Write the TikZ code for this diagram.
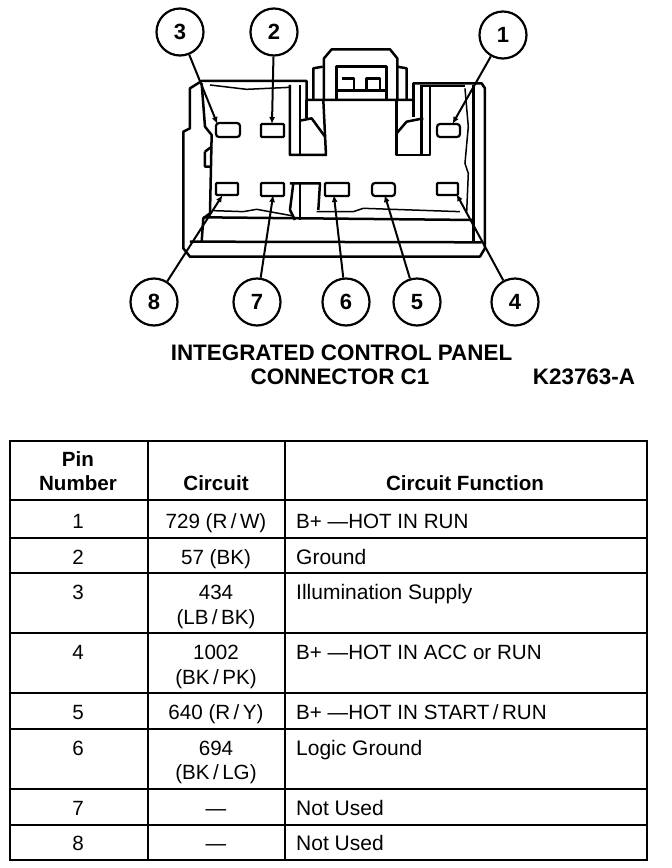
\documentclass[tikz,border=0pt]{standalone}
\usepackage{fontspec}
\setmainfont{Liberation Sans}
\usetikzlibrary{arrows.meta}
\tikzset{
 callout/.style={circle,draw,line width=2.2pt,minimum size=47pt,inner sep=0pt,font=\fontsize{22}{22}\selectfont\bfseries},
 leader/.style={line width=2pt,-{Latex[length=7pt,width=6pt]},shorten >=-1pt},
 pinbox/.style={draw,line width=2.2pt,rounded corners=1pt,inner sep=0pt,fill=white},
 body/.style={line width=2.5pt,line join=round},
 thinb/.style={line width=1.5pt,line join=round},
 grid/.style={line width=2.1pt},
 head/.style={font=\fontsize{20.6}{20.6}\selectfont\bfseries,inner sep=0pt,anchor=base},
 cell/.style={font=\fontsize{20.6}{20.6}\selectfont,inner sep=0pt,anchor=base},
 fn/.style={font=\fontsize{21}{21}\selectfont,inner sep=0pt,anchor=base west},
 fnhot/.style={font=\fontsize{20.6}{20.6}\selectfont,inner sep=0pt,anchor=base west},
 caption/.style={font=\fontsize{22.4}{22.4}\selectfont\bfseries,inner sep=0pt,anchor=base},
}
\begin{document}
\begin{tikzpicture}[x=1pt,y=-1pt]
\useasboundingbox (0,0) rectangle (672,868);
\fill[white] (0,0) rectangle (672,868);
% connector body, in units of a third of a pixel
\begin{scope}[shift={(130,0)},x=0.3333pt,y=-0.3333pt]
\draw[body] (180,265) -- (215,243) -- (530,243) -- (530,300) -- (850,300) -- (850,250) -- (1055,250) -- (1065,265) -- (1065,745) -- (1050,770) -- (180,770) -- (160,745) -- (160,395) -- (180,385) -- cycle;
\draw[body] (550,298) -- (550,205) -- (578,200);
\draw[body] (830,298) -- (830,205) -- (802,200);
\draw[body] (582,300) -- (582,175) -- (605,148) -- (780,148) -- (802,175) -- (802,300);
\draw[body] (620,298) -- (620,200) -- (770,200) -- (770,298);
\draw[body] (620,272) -- (770,272);
\draw[body] (635,235) -- (672,235) -- (672,268) (710,268) -- (710,235) -- (750,235) -- (750,268);
\draw[body] (480,255) -- (480,465) -- (588,465) -- (580,300);
\draw[body] (510,255) -- (510,465);
\draw[body] (530,300) -- (530,355);
\draw[body] (510,362) -- (545,355) -- (585,410);
\draw[body] (850,255) -- (850,350);
\draw[body] (800,300) -- (800,465) -- (900,465) -- (900,255);
\draw[body] (875,255) -- (875,465);
\draw[body] (800,400) -- (830,365) -- (880,355);
\draw[thinb] (240,255) -- (350,268) -- (480,262);
\draw[thinb] (875,258) -- (1005,258);
\draw[body] (215,250) -- (225,380) -- (245,405) -- (240,640) -- (220,655) -- (215,725);
\draw[body] (225,455) -- (245,440) (225,455) -- (225,500) -- (245,500);
\draw[thinb] (1005,265) -- (1015,380) -- (1005,490) -- (1015,520) -- (1010,640);
\draw[body] (1030,255) -- (1030,725);
\draw[body] (480,550) -- (570,550) -- (565,630);
\draw[body] (490,550) -- (480,630) -- (495,660);
\draw[body] (510,550) -- (510,660);
\draw[thinb] (250,632) -- (340,635) -- (380,628) -- (490,648);
\draw[thinb] (560,635) -- (670,635) -- (700,625) -- (990,635);
\draw[body] (220,652) -- (1030,660);
\draw[body] (180,725) -- (1055,727);
\end{scope}
% pins
\node[pinbox,minimum width=24pt,minimum height=14pt,rounded corners=3pt] (p3) at (228,130) {};
\node[pinbox,minimum width=23pt,minimum height=13pt] (p2) at (272.5,130.5) {};
\node[pinbox,minimum width=23pt,minimum height=13pt,rounded corners=3pt] (p1) at (448.5,130.5) {};
\node[pinbox,minimum width=22pt,minimum height=12pt] (p8) at (227,189) {};
\node[pinbox,minimum width=23pt,minimum height=13pt] (p7) at (272.5,189.5) {};
\node[pinbox,minimum width=24pt,minimum height=13pt] (p6) at (337,189.5) {};
\node[pinbox,minimum width=23pt,minimum height=13pt,rounded corners=3pt] (p5) at (383.5,189.5) {};
\node[pinbox,minimum width=21pt,minimum height=12pt] (p4) at (447.5,189) {};
% callouts
\node[callout] (c3) at (180,32) {3};
\node[callout] (c2) at (274,32) {2};
\node[callout] (c1) at (503,35) {1};
\node[callout] (c8) at (154,302) {8};
\node[callout] (c7) at (257,302) {7};
\node[callout] (c6) at (346,302) {6};
\node[callout] (c5) at (417,302) {5};
\node[callout] (c4) at (515,302) {4};
\coordinate (t3) at (217,123);
\coordinate (t2) at (272,123);
\coordinate (t1) at (453,123);
\coordinate (t8) at (222,196);
\coordinate (t7) at (273,196);
\coordinate (t6) at (334,196);
\coordinate (t5) at (385,196);
\coordinate (t4) at (457,195);
\foreach \n in {1,...,8}{\draw[leader] (c\n) -- (t\n);}
% captions
\node[caption] (cap1) at (341.5,360) {INTEGRATED CONTROL PANEL};
\node[caption] (cap2) at (340,384) {CONNECTOR C1};
\node[caption] (cap3) at (584,384) {K23763-A};
% table
\draw[grid] (10,441) rectangle (647,860);
\draw[grid] (148,441) -- (148,860) (285,441) -- (285,860);
\foreach \y in {500,538,573,633,693,729,789,825}{\draw[grid] (10,\y) -- (647,\y);}
\node[head] (h1) at (78,466) {Pin};
\node[head] (h2) at (78,490) {Number};
\node[head] (h3) at (216,490) {Circuit};
\node[head] (h4) at (465,490) {Circuit Function};
\node[cell] (a1) at (78,528) {1};
\node[cell] (b1) at (216,528) {729 (R\,/\,W)};
\node[fnhot] (f1) at (296,528) {B+ —HOT IN RUN};
\node[cell] (a2) at (78,564) {2};
\node[cell] (b2) at (216,564) {57 (BK)};
\node[fn] (f2) at (296,564) {Ground};
\node[cell] (a3) at (78,599) {3};
\node[cell] (b3) at (216,599) {434};
\node[cell] (b3b) at (216,624) {(LB\,/\,BK)};
\node[fn] (f3) at (296,599) {Illumination Supply};
\node[cell] (a4) at (78,659) {4};
\node[cell] (b4) at (216,659) {1002};
\node[cell] (b4b) at (216,684) {(BK\,/\,PK)};
\node[fnhot] (f4) at (296,659) {B+ —HOT IN ACC or RUN};
\node[cell] (a5) at (78,719) {5};
\node[cell] (b5) at (216,719) {640 (R\,/\,Y)};
\node[fnhot] (f5) at (296,719) {B+ —HOT IN START\,/\,RUN};
\node[cell] (a6) at (78,755) {6};
\node[cell] (b6) at (216,755) {694};
\node[cell] (b6b) at (216,779) {(BK\,/\,LG)};
\node[fn] (f6) at (296,755) {Logic Ground};
\node[cell] (a7) at (78,815) {7};
\node[cell] (b7) at (216,815) {—};
\node[fn] (f7) at (296,815) {Not Used};
\node[cell] (a8) at (78,850) {8};
\node[cell] (b8) at (216,850) {—};
\node[fn] (f8) at (296,850) {Not Used};
\end{tikzpicture}
\end{document}
